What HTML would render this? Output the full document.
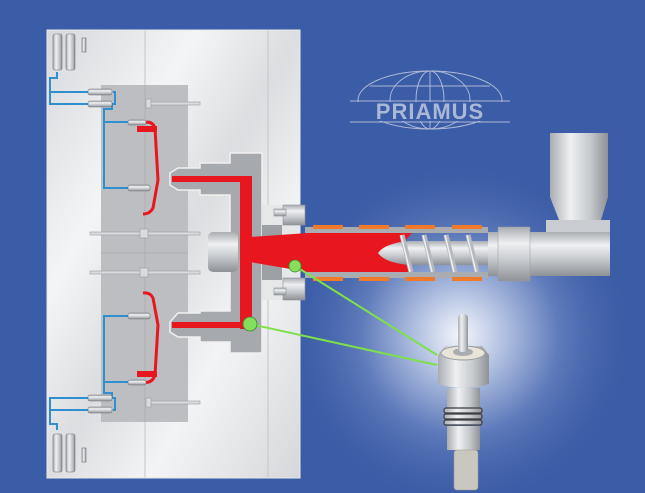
<!DOCTYPE html>
<html><head><style>html,body{margin:0;padding:0;background:#3b5ca6}svg{display:block}</style></head>
<body>
<svg width="645" height="493" viewBox="0 0 645 493" xmlns="http://www.w3.org/2000/svg">
<defs>
<radialGradient id="glow" cx="460" cy="335" r="180" gradientUnits="userSpaceOnUse">
<stop offset="0" stop-color="#f4f6fb"/><stop offset="0.22" stop-color="#b8c6e4"/><stop offset="0.55" stop-color="#5f7bbb"/><stop offset="1" stop-color="#3b5ca6" stop-opacity="0"/></radialGradient>
<linearGradient id="plate" x1="0" y1="0" x2="1" y2="1">
<stop offset="0" stop-color="#d6d8dc"/><stop offset="0.3" stop-color="#f4f5f6"/><stop offset="0.5" stop-color="#dcdde0"/><stop offset="0.7" stop-color="#f3f4f5"/><stop offset="1" stop-color="#d5d7da"/></linearGradient>
<linearGradient id="tube" x1="0" y1="0" x2="0" y2="1">
<stop offset="0" stop-color="#a9acb1"/><stop offset="0.3" stop-color="#eef0f2"/><stop offset="0.6" stop-color="#c9ccd0"/><stop offset="1" stop-color="#8e9196"/></linearGradient>
<linearGradient id="vtube" x1="0" y1="0" x2="1" y2="0">
<stop offset="0" stop-color="#a9acb1"/><stop offset="0.35" stop-color="#eef0f2"/><stop offset="0.7" stop-color="#c4c7cb"/><stop offset="1" stop-color="#8e9196"/></linearGradient>
</defs>
<rect width="645" height="493" fill="#3b5ca6"/>
<rect width="645" height="493" fill="url(#glow)"/>

<!-- logo -->
<g stroke="#b9c4dc" stroke-width="1" fill="none" opacity="0.9">
<ellipse cx="430" cy="100" rx="72" ry="29"/>
<ellipse cx="430" cy="100" rx="40" ry="29"/>
<ellipse cx="430" cy="100" rx="14" ry="29"/>
<line x1="430" y1="71" x2="430" y2="129"/>
<line x1="350" y1="101" x2="510" y2="101"/>
<line x1="350" y1="122" x2="510" y2="122"/>
<line x1="370" y1="86" x2="490" y2="86"/>
</g>
<rect x="355" y="102" width="150" height="19" fill="#3b5ca6"/>
<text x="430" y="119" text-anchor="middle" font-family="Liberation Sans, sans-serif" font-weight="bold" font-size="22" fill="#aab8d8" letter-spacing="1">PRIAMUS</text>

<!-- mold plates -->
<rect x="47" y="30" width="253" height="448" fill="url(#plate)"/>
<line x1="145" y1="30" x2="145" y2="478" stroke="#c4c6ca"/>
<line x1="268" y1="30" x2="268" y2="478" stroke="#c4c6ca"/>
<rect x="47" y="30" width="253" height="448" fill="none" stroke="#e8e9eb"/>

<!-- gray cavity block -->
<rect x="101" y="85" width="87" height="337" fill="#bcbec2"/>
<line x1="145" y1="85" x2="145" y2="422" stroke="#aeb0b4"/>
<line x1="101" y1="253" x2="188" y2="253" stroke="#aeb0b4"/>
<g fill="#d8dadd" stroke="#9a9ca0" stroke-width="0.6">
<rect x="90" y="232" width="110" height="3"/><rect x="140" y="229" width="8" height="9"/>
<rect x="90" y="271" width="110" height="3"/><rect x="140" y="268" width="8" height="9"/>
<rect x="150" y="102" width="50" height="3"/><rect x="146" y="99" width="5" height="9"/>
<rect x="150" y="401" width="50" height="3"/><rect x="146" y="398" width="5" height="9"/>
</g>

<!-- sprue bushing -->
<path d="M230,153 H262 V353 H230 V342 H200 V337 H178 L170,332 V322 L178,313 H200 V311 H230 V195 H200 V190 H178 L170,185 V173 L178,168 H200 V163 H230 Z" fill="#a6a9ad" stroke="#f0f0f0" stroke-width="1.5"/>
<rect x="208" y="232" width="30" height="40" rx="5" fill="url(#tube)"/>
<rect x="262" y="205" width="38" height="95" fill="#e6e7e9"/>
<rect x="262" y="225" width="20" height="55" fill="#9c9fa3"/>
<g fill="url(#tube)" stroke="#8e9196" stroke-width="0.6">
<rect x="283" y="205" width="22" height="20"/><rect x="283" y="278" width="22" height="22"/>
<rect x="274" y="209" width="12" height="7"/><rect x="274" y="288" width="12" height="7"/>
</g>

<!-- barrel wall -->
<rect x="305" y="227" width="183" height="6" fill="#a9acb1"/>
<rect x="305" y="272" width="183" height="6" fill="#a9acb1"/>

<!-- red runner -->
<g fill="#e8171f">
<rect x="240" y="176" width="12" height="153"/>
<rect x="172" y="176" width="80" height="6"/>
<rect x="172" y="322" width="80" height="6"/>
<path d="M250,237 L308,233 H412 Q392,252 412,272 H308 L250,262 Z"/>
</g>
<g fill="none" stroke="#e8171f" stroke-width="3">
<path d="M143,123 Q152,120 155,128 L158,180 L153,208 Q150,214 143,214"/>
<path d="M143,293 Q150,292 153,298 L158,325 L155,375 Q152,384 143,382"/>
</g>
<rect x="137" y="126" width="20" height="6" fill="#e8171f"/>
<rect x="137" y="371" width="20" height="6" fill="#e8171f"/>

<!-- blue lines -->
<g fill="none" stroke="#2f8fd0" stroke-width="2">
<path d="M57,72 V78 H50 V104 H103 M50,98 V92 H103"/>
<path d="M113,92 H115 V104 H112 M112,105 V109 H104 V188 H128 M104,122 H130"/>
<path d="M57,430 V424 H50 V398 H103 M50,404 V410 H103"/>
<path d="M113,410 H115 V398 H112 M112,397 V393 H104 V316 H128 M104,382 H130"/>
</g>
<g fill="url(#tube)" stroke="#6e7176" stroke-width="0.6">
<rect x="88" y="89" width="24" height="6" rx="2"/><rect x="88" y="101" width="24" height="6" rx="2"/>
<rect x="128" y="185" width="22" height="6" rx="2"/><rect x="128" y="120" width="18" height="5" rx="2"/>
<rect x="88" y="395" width="24" height="6" rx="2"/><rect x="88" y="407" width="24" height="6" rx="2"/>
<rect x="128" y="313" width="22" height="6" rx="2"/><rect x="128" y="380" width="18" height="5" rx="2"/>
</g>
<g fill="url(#vtube)" stroke="#6e7176" stroke-width="0.6">
<rect x="53" y="34" width="9" height="36" rx="2"/><rect x="66" y="34" width="9" height="36" rx="2"/><rect x="82" y="38" width="4" height="14"/>
<rect x="53" y="434" width="9" height="38" rx="2"/><rect x="66" y="434" width="9" height="38" rx="2"/><rect x="82" y="448" width="4" height="14"/>
</g>

<!-- heater bands -->
<g fill="#ef7a2a">
<rect x="313" y="225" width="30" height="4"/><rect x="359" y="225" width="30" height="4"/><rect x="405" y="225" width="30" height="4"/><rect x="452" y="225" width="30" height="4"/>
<rect x="313" y="277" width="30" height="4"/><rect x="359" y="277" width="30" height="4"/><rect x="405" y="277" width="30" height="4"/><rect x="452" y="277" width="30" height="4"/>
</g>
<path d="M378,253 Q385,243 410,241 H490 V265 H410 Q385,263 378,253 Z" fill="url(#tube)"/>
<g stroke="#b5b8bc" stroke-width="5" fill="none">
<line x1="402" y1="235" x2="411" y2="272"/><line x1="424" y1="235" x2="433" y2="272"/><line x1="446" y1="235" x2="455" y2="272"/><line x1="468" y1="235" x2="477" y2="272"/>
</g>
<g stroke="#eef0f2" stroke-width="1.5" fill="none">
<line x1="401" y1="235" x2="410" y2="272"/><line x1="423" y1="235" x2="432" y2="272"/><line x1="445" y1="235" x2="454" y2="272"/><line x1="467" y1="235" x2="476" y2="272"/>
</g>
<rect x="488" y="232" width="122" height="44" fill="url(#tube)"/>
<rect x="498" y="227" width="32" height="54" fill="url(#tube)" stroke="#9a9da1" stroke-width="0.5"/>
<path d="M550,133 H608 V197 L601,220 H559 L550,197 Z" fill="url(#vtube)"/>
<rect x="546" y="220" width="64" height="12" fill="#c9ccd0"/>

<!-- sensor -->
<rect x="447" y="388" width="33" height="22" fill="url(#vtube)"/>
<g fill="url(#vtube)" stroke="#3a3c40" stroke-width="1.2">
<rect x="444" y="408" width="38" height="5" rx="2"/><rect x="444" y="414" width="38" height="5" rx="2"/><rect x="444" y="420" width="38" height="5" rx="2"/>
</g>
<rect x="447" y="426" width="33" height="24" fill="url(#vtube)"/>
<rect x="454" y="450" width="24" height="40" rx="3" fill="#c9c8c0" stroke="#9a9890" stroke-width="0.6"/>
<path d="M438,355 L445,346 H482 L489,355 V384 Q463,392 438,384 Z" fill="url(#vtube)"/>
<ellipse cx="463" cy="353" rx="22" ry="7" fill="#e8e4d8" stroke="#9a9da1"/>
<ellipse cx="463" cy="352" rx="10" ry="4" fill="#a9acb1"/>
<rect x="458" y="314" width="10" height="38" rx="4" fill="url(#vtube)"/>

<g stroke="#7ee04a" stroke-width="2">
<line x1="295" y1="266" x2="437" y2="355"/>
<line x1="250" y1="324" x2="437" y2="365"/>
</g>
<circle cx="295" cy="266" r="6" fill="#84e05a" stroke="#3e8a2a" stroke-width="0.8"/>
<circle cx="250" cy="324" r="7" fill="#84e05a" stroke="#3e8a2a" stroke-width="0.8"/>
</svg>
</body></html>
